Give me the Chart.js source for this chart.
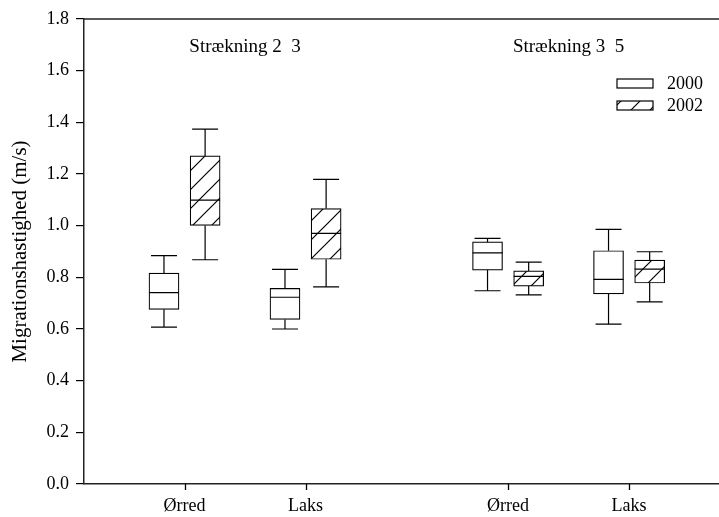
<!DOCTYPE html>
<html>
<head>
<meta charset="utf-8">
<script src="https://cdn.jsdelivr.net/npm/chart.js@4.4.1/dist/chart.umd.min.js"></script>
<style>
  html, body { margin: 0; padding: 0; background: #fff; }
  canvas { display: block; }
</style>
</head>
<body>
<canvas id="c" width="719" height="517"></canvas>
<script>
// ---------- data ----------
const groupLabels = ['Strækning 2  3', 'Strækning 3  5'];
const categories = ['Ørred', 'Laks', 'Ørred', 'Laks'];
const years = ['2000', '2002'];
const yTicks = [0.0, 0.2, 0.4, 0.6, 0.8, 1.0, 1.2, 1.4, 1.6, 1.8];

const min2000 = [0.607, 0.600, 0.748, 0.619];
const q1_2000 = [0.676, 0.637, 0.828, 0.736];
const med2000 = [0.741, 0.723, 0.895, 0.792];
const q3_2000 = [0.816, 0.757, 0.937, 0.903];
const max2000 = [0.884, 0.831, 0.951, 0.986];

const min2002 = [0.868, 0.763, 0.732, 0.705];
const q1_2002 = [1.001, 0.870, 0.766, 0.778];
const med2002 = [1.099, 0.970, 0.804, 0.832];
const q3_2002 = [1.270, 1.066, 0.825, 0.867];
const max2002 = [1.374, 1.179, 0.859, 0.899];

// ---------- layout helpers ----------
const GROUP_GAP = 0.674;     // extra space between the two stretches
const OFF = 0.17;            // offset of year boxes from category centre
const catPos = i => 1 + i + (i >= 2 ? GROUP_GAP : 0);
const FONT = "'Liberation Serif', 'Times New Roman', serif";

// hatch pattern
function makeHatch() {
  const s = 19;
  const c = document.createElement('canvas');
  c.width = s; c.height = s;
  const g = c.getContext('2d');
  g.fillStyle = '#fff'; g.fillRect(0, 0, s, s);
  g.strokeStyle = '#000'; g.lineWidth = 1.2;
  g.beginPath();
  g.moveTo(-2, s + 2); g.lineTo(s + 2, -2);
  g.moveTo(-2, 2); g.lineTo(2, -2);
  g.moveTo(s - 2, s + 2); g.lineTo(s + 2, s - 2);
  g.stroke();
  return document.getElementById('c').getContext('2d').createPattern(c, 'repeat');
}
const hatch = makeHatch();

const series = [
  { label: years[0], min: min2000, q1: q1_2000, med: med2000, q3: q3_2000, max: max2000, off: -OFF, fill: '#fff' },
  { label: years[1], min: min2002, q1: q1_2002, med: med2002, q3: q3_2002, max: max2002, off: OFF, fill: hatch }
];

const boxPlugin = {
  id: 'boxExtras',
  afterDatasetsDraw(chart) {
    const { ctx, scales: { x, y }, chartArea } = chart;
    ctx.save();
    ctx.strokeStyle = '#000';
    ctx.lineWidth = 1.2;
    const capHalf = 13;
    series.forEach((s, si) => {
      const meta = chart.getDatasetMeta(si);
      categories.forEach((c, i) => {
        const bar = meta.data[i];
        const cx = bar.x;
        const half = bar.width / 2;
        const pMin = y.getPixelForValue(s.min[i]);
        const pQ1 = y.getPixelForValue(s.q1[i]);
        const pMed = y.getPixelForValue(s.med[i]);
        const pQ3 = y.getPixelForValue(s.q3[i]);
        const pMax = y.getPixelForValue(s.max[i]);
        ctx.beginPath();
        ctx.moveTo(cx, pQ3); ctx.lineTo(cx, pMax);
        ctx.moveTo(cx - capHalf, pMax); ctx.lineTo(cx + capHalf, pMax);
        ctx.moveTo(cx, pQ1); ctx.lineTo(cx, pMin);
        ctx.moveTo(cx - capHalf, pMin); ctx.lineTo(cx + capHalf, pMin);
        ctx.moveTo(cx - half, pMed); ctx.lineTo(cx + half, pMed);
        ctx.stroke();
      });
    });
    // x-axis tick marks at category positions
    ctx.lineWidth = 1.3;
    ctx.strokeStyle = '#000';
    ctx.beginPath();
    categories.forEach((c, i) => {
      const px = Math.round(x.getPixelForValue(catPos(i))) + 0.5;
      ctx.moveTo(px, chartArea.bottom);
      ctx.lineTo(px, chartArea.bottom + 6);
    });
    ctx.stroke();
    // top frame line
    ctx.lineWidth = 1.5;
    ctx.strokeStyle = '#222';
    ctx.beginPath();
    ctx.moveTo(chartArea.left, chartArea.top);
    ctx.lineTo(chart.width, chartArea.top);
    ctx.stroke();
    // stretch labels
    ctx.fillStyle = '#000';
    ctx.font = '19px ' + FONT;
    ctx.textAlign = 'center';
    ctx.textBaseline = 'middle';
    groupLabels.forEach((g, gi) => {
      const xc = (catPos(gi * 2) + catPos(gi * 2 + 1)) / 2;
      ctx.fillText(g, x.getPixelForValue(xc), y.getPixelForValue(1.69));
    });
    // legend
    const lx = chartArea.right - 102;
    const lw = 36, lh = 9;
    const ly = [79, 101];
    ctx.font = '18px ' + FONT;
    ctx.textAlign = 'left';
    series.forEach((s, si) => {
      ctx.fillStyle = s.fill;
      ctx.fillRect(lx, ly[si], lw, lh);
      ctx.lineWidth = 1.2;
      ctx.strokeStyle = '#000';
      ctx.strokeRect(lx, ly[si], lw, lh);
      ctx.fillStyle = '#000';
      ctx.fillText(s.label, lx + lw + 14, ly[si] + lh / 2 + 1);
    });
    ctx.restore();
  }
};

const tickFont = { family: FONT, size: 18 };

new Chart(document.getElementById('c'), {
  type: 'bar',
  data: {
    datasets: series.map(s => ({
      label: s.label,
      data: categories.map((c, i) => ({ x: catPos(i) + s.off, y: [s.q1[i], s.q3[i]] })),
      backgroundColor: s.fill,
      borderColor: '#000',
      borderWidth: 1.2,
      borderSkipped: false,
      barThickness: 30,
      grouped: false
    }))
  },
  options: {
    responsive: false,
    animation: false,
    devicePixelRatio: 1,
    layout: { padding: { top: 19, left: 0, right: 0, bottom: 0 } },
    plugins: { legend: { display: false }, tooltip: { enabled: false } },
    scales: {
      x: {
        type: 'linear',
        offset: false,
        min: 0.169,
        max: 5.417,
        afterBuildTicks: s => { s.ticks = categories.map((c, i) => ({ value: catPos(i) })); },
        afterFit: s => { s.height = 33; },
        ticks: {
          autoSkip: false, maxRotation: 0, color: '#000', font: tickFont, padding: 11,
          callback: (v, i) => categories[i]
        },
        grid: { offset: false, drawOnChartArea: false, drawTicks: false, color: '#000', lineWidth: 1.3 },
        border: { display: true, color: '#222', width: 1.5 }
      },
      y: {
        min: 0,
        max: 1.8,
        afterBuildTicks: s => { s.ticks = yTicks.map(v => ({ value: v })); },
        afterFit: s => { s.width = 84; },
        ticks: { color: '#000', font: tickFont, padding: 7, callback: v => Number(v).toFixed(1) },
        grid: { drawOnChartArea: false, drawTicks: true, tickLength: 8, tickColor: '#000', tickWidth: 1.2, color: '#222', lineWidth: 1.2 },
        border: { display: true, color: '#222', width: 1.5 },
        title: {
          display: true, text: 'Migrationshastighed (m/s)', color: '#000',
          font: { family: FONT, size: 21 }, padding: { top: 8, bottom: 0 }
        }
      }
    }
  },
  plugins: [boxPlugin]
});
</script>
</body>
</html>
